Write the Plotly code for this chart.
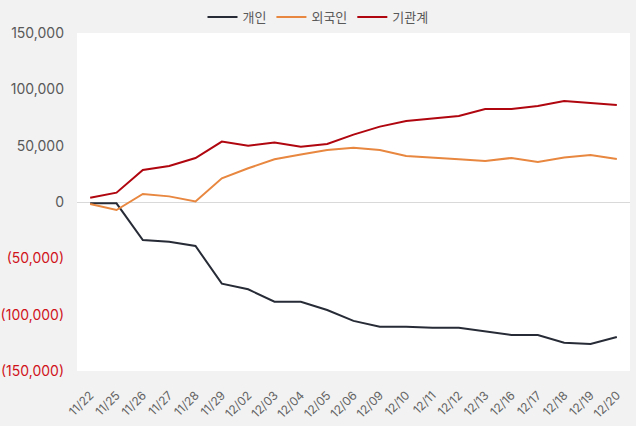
import plotly.graph_objects as go

dates = ["11/22", "11/25", "11/26", "11/27", "11/28", "11/29", "12/02", "12/03", "12/04", "12/05",
         "12/06", "12/09", "12/10", "12/11", "12/12", "12/13", "12/16", "12/17", "12/18", "12/19", "12/20"]
individual = [-1200, -1200, -33700, -35200, -39000, -72500, -77500, -88500, -88500, -95900,
              -105500, -110700, -110700, -111600, -111600, -115000, -118000, -118000, -125000, -126000, -119800]
foreign = [-1800, -7100, 7100, 5000, 500, 21000, 29900, 37900, 42200, 46200,
           48100, 46200, 40900, 39700, 37900, 36400, 39100, 35500, 39400, 41700, 38200]
institution = [3800, 8300, 28400, 32000, 39000, 53600, 50000, 52700, 49100, 51500,
               59800, 66900, 71900, 74000, 76400, 82600, 82600, 85300, 89700, 87900, 86100]

series_names = ["개인", "외국인", "기관계"]
series_colors = ["#262b36", "#e8873f", "#b0060f"]

tick_vals = [150000, 100000, 50000, 0, -50000, -100000, -150000]
tick_text = ["150,000", "100,000", "50,000", "0",
             '<span style="color:#d0121b">(50,000)</span>',
             '<span style="color:#d0121b">(100,000)</span>',
             '<span style="color:#d0121b">(150,000)</span>']

fig = go.Figure()
for name, vals, col in zip(series_names, [individual, foreign, institution], series_colors):
    fig.add_trace(go.Scatter(x=dates, y=vals, name=name, mode="lines",
                             line=dict(color=col, width=2)))

fig.update_layout(
    width=636, height=426,
    margin=dict(l=77, r=6, t=33, b=55, autoexpand=False),
    paper_bgcolor="#f2f2f2", plot_bgcolor="#ffffff",
    font=dict(family="Inter, Noto Sans CJK KR, sans-serif", size=13, color="#595959"),
    legend=dict(orientation="h", xref="container", x=0.5, xanchor="center",
                yref="container", y=0.96, yanchor="middle",
                font=dict(size=13, color="#595959"), bgcolor="rgba(0,0,0,0)",
                itemwidth=30, tracegroupgap=0),
    showlegend=True,
)
fig.update_xaxes(type="category", range=[-0.5, 20.5], tickangle=-45, showgrid=False,
                 showline=False, ticks="", automargin=False, ticklabelstandoff=14,
                 tickfont=dict(size=12, color="#636363"))
fig.update_yaxes(range=[-150000, 150000], tickvals=tick_vals, ticktext=tick_text,
                 showgrid=False, zeroline=True, zerolinecolor="#d9d9d9", zerolinewidth=1,
                 showline=False, ticks="", automargin=False, ticklabelstandoff=12,
                 tickfont=dict(size=14, color="#595959"))

fig.write_html("out.html", config={"displayModeBar": False},
               post_script="document.body.style.margin='0';document.body.style.background='#f2f2f2';")
